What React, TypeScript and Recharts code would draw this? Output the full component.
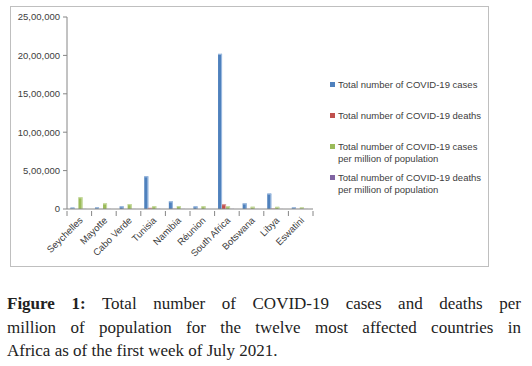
import { BarChart, Bar, XAxis, YAxis } from 'recharts';

const countries = ['Seychelles', 'Mayotte', 'Cabo Verde', 'Tunisia', 'Namibia', 'Réunion', 'South Africa', 'Botswana', 'Libya', 'Eswatini'];
const totalCases = [17500, 19800, 33000, 425000, 98000, 33000, 2020000, 72000, 200000, 19500];
const totalDeaths = [80, 175, 300, 14500, 1800, 190, 62000, 1100, 3300, 680];
const casesPerMillion = [152000, 72000, 62000, 35000, 37000, 35000, 34000, 29000, 28000, 19000];
const deathsPerMillion = [750, 650, 530, 1230, 700, 210, 1050, 460, 470, 590];
const yTicks = [0, 500000, 1000000, 1500000, 2000000, 2500000];

const series = [
    { key: 'cases', name: 'Total number of COVID-19 cases', color: '#4F81BD', light: '#9DBBE0' },
    { key: 'deaths', name: 'Total number of COVID-19 deaths', color: '#C0504D', light: '#E0A3A1' },
    { key: 'casesPm', name: 'Total number of COVID-19 cases per million of population', color: '#9BBB59', light: '#CADDA5' },
    { key: 'deathsPm', name: 'Total number of COVID-19 deaths per million of population', color: '#8064A2', light: '#B9A8CE' },
];

const data = countries.map((c, i) => ({
    country: c,
    cases: totalCases[i],
    deaths: totalDeaths[i],
    casesPm: casesPerMillion[i],
    deathsPm: deathsPerMillion[i],
}));

// indian style grouping: 25,00,000
const fmt = (v: number) => {
    const s = String(Math.round(v));
    if (s.length <= 3) return s;
    const last3 = s.slice(-3);
    let rest = s.slice(0, -3);
    const parts: string[] = [];
    while (rest.length > 2) {
        parts.unshift(rest.slice(-2));
        rest = rest.slice(0, -2);
    }
    if (rest) parts.unshift(rest);
    return parts.join(',') + ',' + last3;
};

const AXIS = '#868686';
const TEXT = '#404040';
const FONT = '"Liberation Sans", Arial, sans-serif';
const BAND_HALF = 12.3;

const XTick = ({ x, y, payload, index }: any) => {
    const last = index === countries.length - 1;
    return (
        <g>
            <line x1={x - BAND_HALF} x2={x - BAND_HALF} y1={y} y2={y + 5} stroke={AXIS} />
            {last && <line x1={x + BAND_HALF} x2={x + BAND_HALF} y1={y} y2={y + 5} stroke={AXIS} />}
            <text
                x={x + 4}
                y={y + 10}
                textAnchor="end"
                transform={`rotate(-45 ${x + 4} ${y + 10})`}
                fontSize={9.5}
                fill={TEXT}
                fontFamily={FONT}
            >
                {payload.value}
            </text>
        </g>
    );
};

const makeShape = (light: string, color: string) => (props: any) => {
    const { x, y, width, height } = props;
    if (!height || height <= 0) return <g />;
    return (
        <g>
            <rect x={x} y={y} width={width} height={height} fill={color} />
            <rect x={x + width - 1} y={y} width={1} height={height} fill={light} />
            <rect x={x} y={y} width={width} height={Math.min(1, height)} fill={light} />
        </g>
    );
};

const LegendBox = () => (
    <div style={{ position: 'absolute', left: 330, top: 79, width: 155, fontFamily: FONT, fontSize: 9.5, color: TEXT, lineHeight: '11.5px' }}>
        {series.map((s) => {
            const words = s.name.split(' per ');
            return (
                <div key={s.key} style={{ display: 'flex', alignItems: 'flex-start', height: 31 }}>
                    <span style={{ flex: 'none', display: 'inline-block', width: 5, height: 5, background: s.color, marginTop: 3, marginRight: 3 }} />
                    <span>
                        {words[0]}
                        {words[1] && <br />}
                        {words[1] && 'per ' + words[1]}
                    </span>
                </div>
            );
        })}
    </div>
);

export default function App() {
    return (
        <div style={{ position: 'relative', width: 532, height: 366, background: '#fff' }}>
            <style>{`body{margin:0}`}</style>
            <div style={{ position: 'absolute', left: 10, top: 6, width: 477, height: 259, border: '1px solid #BFBFBF' }} />
            <div style={{ position: 'absolute', left: 10, top: 6 }}>
                <BarChart
                    width={478}
                    height={260}
                    data={data}
                    margin={{ top: 11, right: 175, left: 0, bottom: 0 }}
                    barCategoryGap="14%"
                    barGap={0}
                >
                    <XAxis
                        dataKey="country"
                        interval={0}
                        height={57}
                        stroke={AXIS}
                        tickLine={false}
                        tickSize={0}
                        tick={<XTick />}
                    />
                    <YAxis
                        domain={[0, 2500000]}
                        ticks={yTicks}
                        width={57}
                        stroke={AXIS}
                        tickSize={4}
                        tickMargin={3}
                        tickFormatter={fmt}
                        tick={{ fontSize: 9.5, fill: TEXT, fontFamily: FONT }}
                        interval={0}
                    />
                    {series.map((s) => (
                        <Bar
                            key={s.key}
                            dataKey={s.key}
                            name={s.name}
                            fill={s.color}
                            shape={makeShape(s.light, s.color)}
                            isAnimationActive={false}
                        />
                    ))}
                </BarChart>
            </div>
            <LegendBox />
            <div
                style={{
                    position: 'absolute',
                    left: 7,
                    top: 292,
                    width: 514,
                    fontFamily: '"Liberation Serif", "Times New Roman", serif',
                    fontSize: 17,
                    lineHeight: '23.5px',
                    color: '#222',
                }}
            >
                <div style={{ textAlign: 'justify', textAlignLast: 'justify' }}>
                    <b>Figure 1:</b> Total number of COVID-19 cases and deaths per
                </div>
                <div style={{ textAlign: 'justify', textAlignLast: 'justify' }}>
                    million of population for the twelve most affected countries in
                </div>
                <div>Africa as of the first week of July 2021.</div>
            </div>
        </div>
    );
}
